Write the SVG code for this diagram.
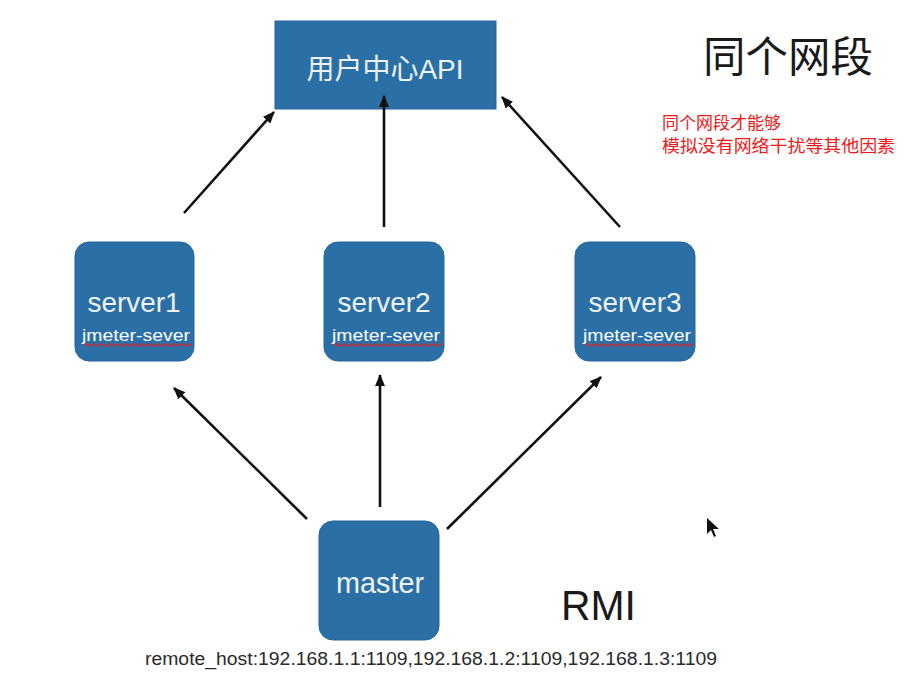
<svg xmlns="http://www.w3.org/2000/svg" width="918" height="699" viewBox="0 0 918 699">
<style>
.box{fill:#2b6fa7;stroke:#26649a;stroke-width:1}
.lbl{font-family:"Liberation Sans","Noto Sans CJK SC",sans-serif;fill:#eef3f8;text-anchor:middle}
.sub{font-family:"Liberation Sans",sans-serif;fill:#ffffff;font-size:17px;text-anchor:middle}
.wavy{fill:none;stroke:#d9262a;stroke-width:1.2}
.conn{stroke:#111;stroke-width:2.6;fill:none;marker-end:url(#ah)}
</style>
<defs>
<marker id="ah" viewBox="0 0 12 10" refX="11" refY="5" markerWidth="12" markerHeight="10" markerUnits="userSpaceOnUse" orient="auto">
<path d="M0,0 L12,5 L0,10 Z" fill="#111"/>
</marker>
</defs>
<rect width="918" height="699" fill="#ffffff"/>
<g id="api">
<rect class="box" x="275" y="21" width="221" height="88"/>
<text class="lbl" x="385" y="79" font-size="28" textLength="157" lengthAdjust="spacingAndGlyphs">用户中心API</text>
</g>
<g id="server1">
<rect class="box" x="75" y="242" width="119" height="119" rx="14"/>
<text class="lbl" x="134" y="312" font-size="28" textLength="93" lengthAdjust="spacingAndGlyphs">server1</text>
<text class="sub" x="136" y="341" textLength="108" lengthAdjust="spacingAndGlyphs">jmeter-sever</text>
<path class="wavy" d="M84,345 q2,-2 4,0 t4,0 t4,0 t4,0 t4,0 t4,0 t4,0 t4,0 t4,0 t4,0 t4,0 t4,0 t4,0 t4,0 t4,0 t4,0 t4,0 t4,0 t4,0 t4,0 t4,0 t4,0 t4,0 t4,0 t4,0 t4,0 t4,0"/>
</g>
<g id="server2">
<rect class="box" x="324" y="242" width="120" height="119" rx="14"/>
<text class="lbl" x="384" y="312" font-size="28" textLength="93" lengthAdjust="spacingAndGlyphs">server2</text>
<text class="sub" x="386" y="341" textLength="108" lengthAdjust="spacingAndGlyphs">jmeter-sever</text>
<path class="wavy" d="M334,345 q2,-2 4,0 t4,0 t4,0 t4,0 t4,0 t4,0 t4,0 t4,0 t4,0 t4,0 t4,0 t4,0 t4,0 t4,0 t4,0 t4,0 t4,0 t4,0 t4,0 t4,0 t4,0 t4,0 t4,0 t4,0 t4,0 t4,0 t4,0"/>
</g>
<g id="server3">
<rect class="box" x="575" y="242" width="120" height="119" rx="14"/>
<text class="lbl" x="635" y="312" font-size="28" textLength="93" lengthAdjust="spacingAndGlyphs">server3</text>
<text class="sub" x="637" y="341" textLength="108" lengthAdjust="spacingAndGlyphs">jmeter-sever</text>
<path class="wavy" d="M585,345 q2,-2 4,0 t4,0 t4,0 t4,0 t4,0 t4,0 t4,0 t4,0 t4,0 t4,0 t4,0 t4,0 t4,0 t4,0 t4,0 t4,0 t4,0 t4,0 t4,0 t4,0 t4,0 t4,0 t4,0 t4,0 t4,0 t4,0 t4,0"/>
</g>
<g id="master">
<rect class="box" x="319" y="521" width="120" height="119" rx="14"/>
<text class="lbl" x="380" y="593" font-size="29" textLength="88" lengthAdjust="spacingAndGlyphs">master</text>
</g>
<g id="connectors">
<line class="conn" x1="184" y1="213" x2="274" y2="112"/>
<line class="conn" x1="384" y1="227" x2="384" y2="96"/>
<line class="conn" x1="620" y1="227" x2="502" y2="97"/>
<line class="conn" x1="307" y1="519" x2="174" y2="388"/>
<line class="conn" x1="380" y1="507" x2="380" y2="375"/>
<line class="conn" x1="447" y1="529" x2="601" y2="377"/>
</g>
<g id="notes">
<text x="703" y="72" font-family="'Noto Sans CJK SC',sans-serif" font-size="42" fill="#1a1a1a" textLength="170" lengthAdjust="spacingAndGlyphs">同个网段</text>
<text x="662" y="129" font-family="'Noto Sans CJK SC',sans-serif" font-size="17" fill="#f01818">同个网段才能够</text>
<text x="662" y="152" font-family="'Noto Sans CJK SC',sans-serif" font-size="17" fill="#f01818" textLength="233" lengthAdjust="spacingAndGlyphs">模拟没有网络干扰等其他因素</text>
<text x="561" y="620" font-family="'Liberation Sans',sans-serif" font-size="42" fill="#1a1a1a" textLength="75" lengthAdjust="spacingAndGlyphs">RMI</text>
<text x="145" y="665" font-family="'Liberation Sans',sans-serif" font-size="18" fill="#2a2a2a" textLength="572" lengthAdjust="spacingAndGlyphs">remote_host:192.168.1.1:1109,192.168.1.2:1109,192.168.1.3:1109</text>
</g>
<path d="M707,518 L707,534 L711,530 L714,537 L716,536 L713,529 L719,529 Z" fill="#111"/>
</svg>
